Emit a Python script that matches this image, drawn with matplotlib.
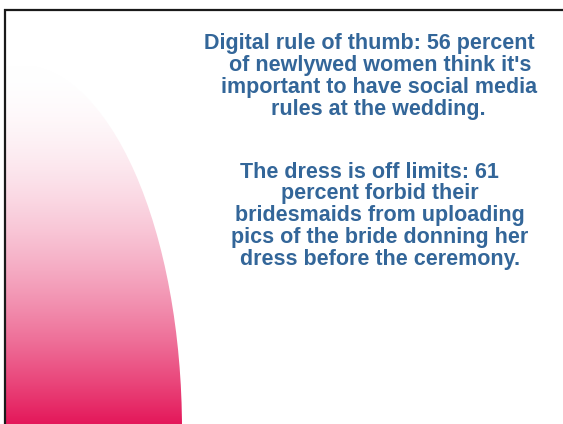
import matplotlib.pyplot as plt
import numpy as np
from matplotlib.patches import Ellipse

# Text of the slide, one entry per rendered line
para1_lines = [
    "Digital rule of thumb: 56 percent",
    "of newlywed women think it's",
    "important to have social media",
    "rules at the wedding.",
]
para1_x = [369, 380, 379, 378]
para1_y = [44, 66, 88, 110]

para2_lines = [
    "The dress is off limits: 61",
    "percent forbid their",
    "bridesmaids from uploading",
    "pics of the bride donning her",
    "dress before the ceremony.",
]
para2_x = [369, 380, 380, 380, 380]
para2_y = [172, 194, 216, 238, 260]

W, H = 563, 424
fig = plt.figure(figsize=(W / 100, H / 100), dpi=100, facecolor="white")
ax = fig.add_axes([0, 0, 1, 1])
ax.set_xlim(0, W)
ax.set_ylim(H, 0)
ax.axis("off")

# Pink gradient shape (part of an ellipse)
grad = np.linspace(0, 1, 256).reshape(-1, 1) ** 1.8
top = np.array([1.0, 1.0, 1.0])
bottom = np.array([228, 24, 90]) / 255
img = top + (bottom - top) * grad[..., None]
img = np.repeat(img, 2, axis=1)
im = ax.imshow(img, extent=[5, 200, H, 65], aspect="auto", zorder=1)
clip = Ellipse((20, 430), 2 * 162, 2 * 365, transform=ax.transData)
im.set_clip_path(clip)

# Frame lines
ax.plot([4, W], [9.5, 9.5], color="#1a1a1a", lw=1.6, zorder=3, solid_capstyle="butt")
ax.plot([4.5, 4.5], [9, H], color="#1a1a1a", lw=1.6, zorder=3, solid_capstyle="butt")

text_kw = dict(ha="center", va="center", color="#336699",
               fontsize=15.5, fontweight="bold", family="Liberation Sans")
for line, x, y in zip(para1_lines, para1_x, para1_y):
    ax.text(x, y, line, **text_kw)
for line, x, y in zip(para2_lines, para2_x, para2_y):
    ax.text(x, y, line, **text_kw)

fig.savefig("out.png", dpi=100, facecolor="white")
